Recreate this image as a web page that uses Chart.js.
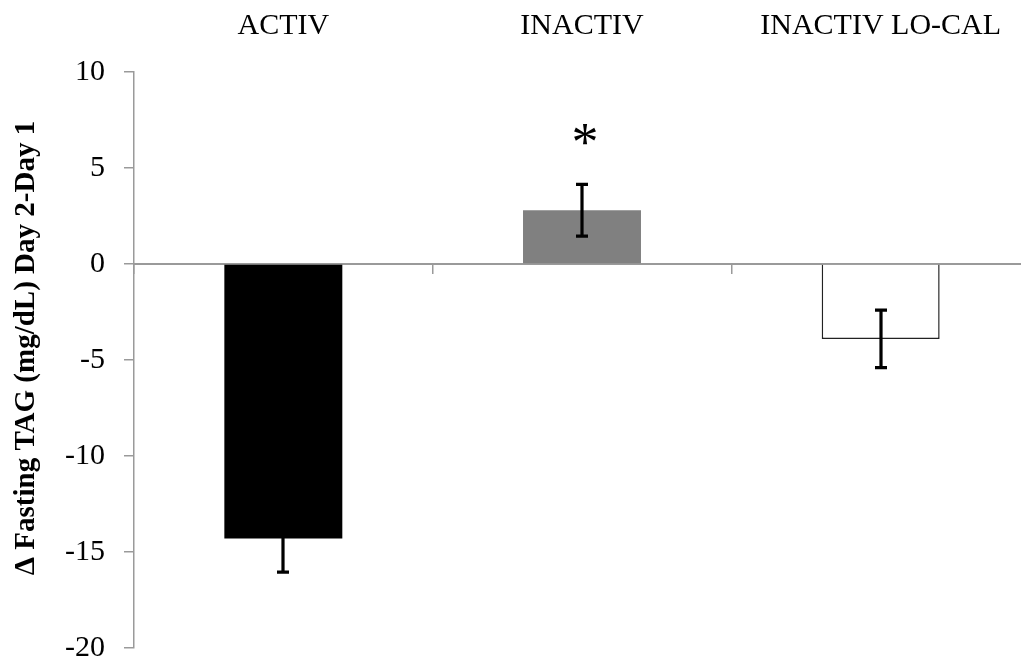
<!DOCTYPE html>
<html>
<head>
<meta charset="utf-8">
<script src="https://cdn.jsdelivr.net/npm/chart.js@4/dist/chart.umd.min.js"></script>
<style>
  html, body { margin: 0; padding: 0; background: #ffffff; overflow: hidden; }
  #wrap { width: 1030px; height: 666px; position: relative; }
</style>
</head>
<body>
<div id="wrap"><canvas id="c"></canvas></div>
<script>
const categories = ['ACTIV', 'INACTIV', 'INACTIV LO-CAL'];
const meanChange = [-14.3, 2.8, -3.9];
const errorSize = [1.75, 1.35, 1.5];
const significance = ['', '*', ''];
const yTicks = [-20, -15, -10, -5, 0, 5, 10];
const yTitle = '\u0394 Fasting TAG (mg/dL) Day 2-Day 1';

const barFill = ['#000000', '#808080', '#ffffff'];
const barBorder = ['#000000', '#808080', '#222222'];
const barBorderW = [0, 0, 1.5];
const axisGray = '#9a9a9a';

const errorBarPlugin = {
  id: 'errorBars',
  afterDatasetsDraw(chart) {
    const ctx = chart.ctx;
    const meta = chart.getDatasetMeta(0);
    const ys = chart.scales.y;
    ctx.save();
    ctx.strokeStyle = '#000000';
    ctx.lineWidth = 3.2;
    meta.data.forEach((bar, i) => {
      const x = Math.round(bar.x);
      const top = ys.getPixelForValue(meanChange[i] + errorSize[i]);
      const bot = ys.getPixelForValue(meanChange[i] - errorSize[i]);
      ctx.beginPath();
      ctx.moveTo(x, top); ctx.lineTo(x, bot);
      ctx.moveTo(x - 6, top); ctx.lineTo(x + 6, top);
      ctx.moveTo(x - 6, bot); ctx.lineTo(x + 6, bot);
      ctx.stroke();
      if (significance[i]) {
        ctx.fillStyle = '#000000';
        ctx.font = "54px 'Liberation Serif'";
        ctx.textAlign = 'center';
        ctx.textBaseline = 'alphabetic';
        ctx.fillText(significance[i], x + 3, top - 24);
      }
    });
    ctx.restore();
  }
};

const yTitlePlugin = {
  id: 'yTitle',
  afterDraw(chart) {
    const ctx = chart.ctx;
    ctx.save();
    ctx.translate(27, 348);
    ctx.rotate(-Math.PI / 2);
    ctx.fillStyle = '#000000';
    ctx.font = "bold 29px 'Liberation Serif'";
    ctx.textAlign = 'center';
    ctx.textBaseline = 'middle';
    ctx.fillText(yTitle, 0, 0);
    ctx.restore();
  }
};

new Chart(document.getElementById('c'), {
  type: 'bar',
  data: {
    labels: categories,
    datasets: [{
      data: meanChange,
      backgroundColor: barFill,
      borderColor: barBorder,
      borderWidth: barBorderW,
      categoryPercentage: 1.0,
      barPercentage: 0.395
    }]
  },
  options: {
    responsive: true,
    maintainAspectRatio: false,
    animation: false,
    layout: { padding: { top: 0, right: 0, bottom: 18, left: 0 } },
    plugins: {
      legend: { display: false },
      tooltip: { enabled: false },
      title: { display: false }
    },
    scales: {
      x: {
        type: 'category',
        position: { y: 0 },
        offset: true,
        ticks: { display: false },
        grid: {
          offset: true,
          drawOnChartArea: false,
          drawTicks: true,
          tickLength: 9,
          color: axisGray,
          lineWidth: 1.5
        },
        border: { display: true, color: axisGray, width: 2 }
      },
      x2: {
        type: 'category',
        position: 'top',
        offset: true,
        grid: { display: false },
        border: { display: false },
        ticks: {
          color: '#000000',
          font: { family: "'Liberation Serif'", size: 30 },
          padding: 20,
          maxRotation: 0,
          autoSkip: false
        },
        afterFit(scale) { scale.height = 72; scale.paddingLeft = 0; scale.paddingRight = 0; }
      },
      y: {
        type: 'linear',
        min: -20,
        max: 10,
        afterBuildTicks(scale) { scale.ticks = yTicks.map(v => ({ value: v })); },
        ticks: {
          color: '#000000',
          font: { family: "'Liberation Serif'", size: 30 },
          padding: 19
        },
        grid: {
          drawOnChartArea: false,
          drawTicks: true,
          tickLength: 10,
          color: axisGray,
          lineWidth: 1.5
        },
        border: { display: true, color: axisGray, width: 1.5 },
        afterFit(scale) { scale.width = 134; scale.paddingTop = 0; scale.paddingBottom = 0; }
      }
    }
  },
  plugins: [errorBarPlugin, yTitlePlugin]
});
</script>
</body>
</html>
